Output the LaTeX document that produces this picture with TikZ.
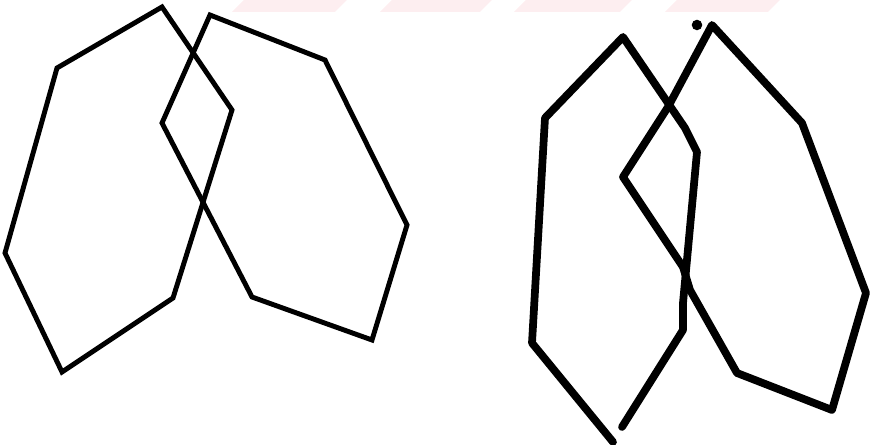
\documentclass[tikz,border=0pt]{standalone}
\usetikzlibrary{calc}
\definecolor{bandpink}{RGB}{253,238,240}
\tikzset{
    neat strand/.style={
        line width=2.8pt,
        black,
        line join=miter,
        line cap=round
    },
    rough strand/.style={
        line width=4.4pt,
        black,
        line join=round,
        line cap=round
    },
    band/.style={
        fill=bandpink,
        draw=none
    }
}
\begin{document}
\begin{tikzpicture}[x=0.02cm, y=-0.02cm]
                \useasboundingbox (0,0) rectangle (870,445);
                \foreach \xa/\xb in {232/335, 380/480, 514/620, 665/768}{
                    \path[band] (\xa,12) -- (\xb,12) -- (\xb+12,0) -- (\xa+12,0) -- cycle;
                }
                \coordinate (A1) at (162,7);
                \coordinate (A2) at (57,68);
                \coordinate (A3) at (5,253);
                \coordinate (A4) at (62,372);
                \coordinate (A5) at (173,298);
                \coordinate (A6) at (232,110);
                \coordinate (B1) at (210,15);
                \coordinate (B2) at (325,60);
                \coordinate (B3) at (407,225);
                \coordinate (B4) at (372,340);
                \coordinate (B5) at (252,297);
                \coordinate (B6) at (162,123);
                \coordinate (C1) at (613,442);
                \coordinate (C2) at (532,343);
                \coordinate (C3) at (545,118);
                \coordinate (C4) at (623,37);
                \coordinate (C5) at (685,128);
                \coordinate (C6) at (697,152);
                \coordinate (C7) at (683,303);
                \coordinate (C8) at (683,330);
                \coordinate (C9) at (622,427);
                \coordinate (D1) at (712,25);
                \coordinate (D2) at (668,107);
                \coordinate (D3) at (623,177);
                \coordinate (D4) at (683,267);
                \coordinate (D5) at (690,290);
                \coordinate (D6) at (737,373);
                \coordinate (D7) at (832,410);
                \coordinate (D8) at (866,293);
                \coordinate (D9) at (802,123);
                \coordinate (Dot) at (697,25);
                \draw[neat strand] (A1) -- (A2) -- (A3) -- (A4) -- (A5) -- (A6) -- cycle;
                \draw[neat strand] (B1) -- (B2) -- (B3) -- (B4) -- (B5) -- (B6) -- cycle;
                \draw[rough strand] (C1) -- (C2) -- (C3) -- (C4) -- (C5) -- (C6) -- (C7) -- (C8) -- (C9);
                \draw[rough strand] (D1) -- (D2) -- (D3) -- (D4) -- (D5) -- (D6) -- (D7) -- (D8) -- (D9) -- cycle;
                \fill (Dot) circle[radius=3pt];
            \end{tikzpicture}
\end{document}
